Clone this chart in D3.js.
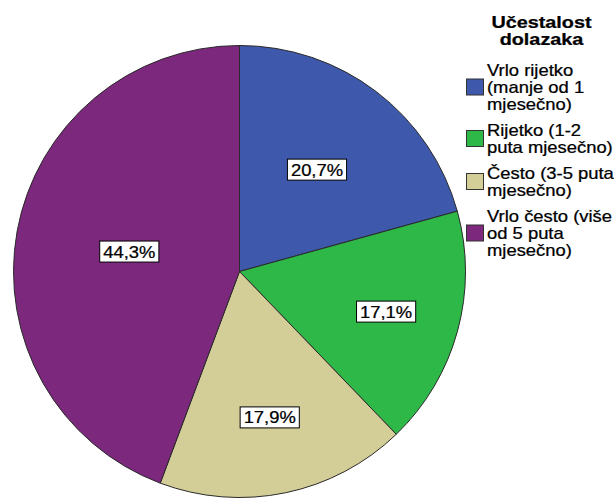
<!DOCTYPE html>
<html>
<head>
<meta charset="utf-8">
<script src="https://cdn.jsdelivr.net/npm/d3@7"></script>
<style>
  body { margin: 0; background: #fff; }
  text { font-family: "Liberation Sans", Arial, sans-serif; fill: #000; stroke: #000; stroke-width: 0.25px; }
</style>
</head>
<body>
<script>
var width = 614,
    height = 499;

// data
var categories = ["Vrlo rijetko (manje od 1 mjesečno)", "Rijetko (1-2 puta mjesečno)",
                  "Često (3-5 puta mjesečno)", "Vrlo često (više od 5 puta mjesečno)"];
var legendLines = [["Vrlo rijetko", "(manje od 1", "mjesečno)"],
                   ["Rijetko (1-2", "puta mjesečno)"],
                   ["Često (3-5 puta", "mjesečno)"],
                   ["Vrlo često (više", "od 5 puta", "mjesečno)"]];
var percents = [20.7, 17.1, 17.9, 44.3];
var legendTitle = ["Učestalost", "dolazaka"];

var colors = ["#3E58AC", "#2EB848", "#D3CE97", "#7C287D"];

// layout
var cx = 239.5, cy = 271.5, radius = 226;
var labelRadius = [128, 152, 149, 112]; // where SPSS happened to drop each label
var sx = 1.15; // text looks horizontally stretched in the original

var svg = d3.select("body").append("svg")
    .attr("width", width)
    .attr("height", height);

var pie = d3.pie().sort(null).value(function(d) { return d; });
var arc = d3.arc().innerRadius(0).outerRadius(radius);

var arcs = pie(percents);

var g = svg.append("g").attr("transform", "translate(" + cx + "," + cy + ")");

g.selectAll("path.slice")
    .data(arcs)
    .enter().append("path")
    .attr("class", "slice")
    .attr("d", arc)
    .attr("fill", function(d, i) { return colors[i]; })
    .attr("stroke", "#2a2a2a")
    .attr("stroke-width", 1);

// percent labels in white boxes
var fmt = function(v) { return d3.format(".1f")(v).replace(".", ",") + "%"; };

var labels = g.selectAll("g.lbl")
    .data(arcs)
    .enter().append("g")
    .attr("class", "lbl")
    .attr("transform", function(d, i) {
      var c = d3.arc().innerRadius(labelRadius[i]).outerRadius(labelRadius[i]).centroid(d);
      return "translate(" + c[0] + "," + c[1] + ")";
    });

labels.append("rect");
labels.append("text")
    .attr("text-anchor", "middle")
    .attr("transform", "translate(0,6) scale(" + sx + ",1)")
    .style("font-size", "16px")
    .text(function(d) { return fmt(d.data); });

labels.each(function() {
  var w = d3.select(this).select("text").node().getComputedTextLength() * sx;
  d3.select(this).select("rect")
      .attr("x", -w / 2 - 3.5)
      .attr("y", -10.5)
      .attr("width", w + 7)
      .attr("height", 21)
      .attr("fill", "#fff")
      .attr("stroke", "#000")
      .attr("stroke-width", 1);
});

// legend
var legend = svg.append("g");

legend.selectAll("text.title")
    .data(legendTitle)
    .enter().append("text")
    .attr("class", "title")
    .attr("text-anchor", "middle")
    .attr("transform", function(d, i) { return "translate(541.5," + (28 + i * 17) + ") scale(1.2,1)"; })
    .style("font-size", "16.5px")
    .style("font-weight", "bold")
    .text(function(d) { return d; });

var lineH = 17, itemGap = 9, y0 = 76;
var item = legend.selectAll("g.item")
    .data(categories)
    .enter().append("g")
    .attr("class", "item");

var yStart = [];
legendLines.reduce(function(y, lines, i) { yStart[i] = y; return y + lines.length * lineH + itemGap; }, y0);

item.each(function(d, i) {
  var it = d3.select(this);
  var n = legendLines[i].length;
  var mid = yStart[i] + (n - 1) * lineH / 2 - 6;
  it.append("rect")
      .attr("x", 466.5)
      .attr("y", mid - 8)
      .attr("width", 17)
      .attr("height", 16)
      .attr("fill", colors[i])
      .attr("stroke", "#333")
      .attr("stroke-width", 1);
  it.selectAll("text")
      .data(legendLines[i])
      .enter().append("text")
      .attr("transform", function(t, j) { return "translate(487," + (yStart[i] + j * lineH) + ") scale(" + sx + ",1)"; })
      .style("font-size", "16px")
      .text(function(t) { return t; });
});
</script>
</body>
</html>
